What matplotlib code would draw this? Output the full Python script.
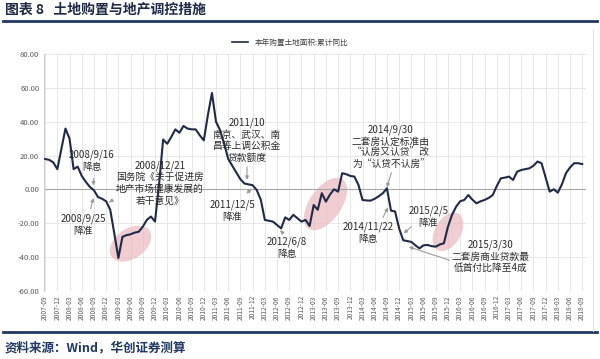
import matplotlib
matplotlib.use("Agg")
import matplotlib.pyplot as plt
import matplotlib.transforms as mtransforms
from matplotlib.patches import Ellipse
from matplotlib.lines import Line2D
import pandas as pd

plt.rcParams['font.family'] = ['Noto Sans CJK SC', 'DejaVu Sans']

# monthly series, 2007-09 .. 2018-09
months = pd.period_range('2007-09', '2018-09', freq='M')
land_yoy = [
    18, 17.5, 16, 12, 24, 36, 30, 12, 13.5, 8,
    4.5, 1.5, -0.5, -4.5, -5.5, -7, -12, -26, -40.5, -28,
    -27, -26.5, -25.5, -25, -22, -18, -16, -19, 3, 29.5,
    27, 31, 35.5, 33.5, 37.5, 36, 35.5, 35.5, 32, 29,
    44, 57, 40, 35, 27, 18, 14, 10, 6, 3.5,
    3, 2.5, -0.3, -6, -18, -18.5, -19, -21, -23, -16.5,
    -18, -15, -17, -19, -18, -21.6, -9.2, -12, -2.2, -7.2,
    -3, 0.1, -1.3, 9.6, 9, 8, 7.6, 2.7, -6.2, -6.5,
    -6.6, -5.5, -4, -2.2, 0.7, -12.5, -13, -23, -30, -30.5,
    -31, -33, -34.8, -33, -32.8, -33.5, -33.8, -32.5, -31.8, -22,
    -15, -10.2, -7, -6.2, -3.3, -6, -8.2, -7, -6.2, -5,
    -3.3, 2, 6.6, 7, 7.6, 5.6, 10.5, 11.5, 12, 12.5,
    14, 16.5, 15.5, 7, -1.3, 0.1, -1.9, 3, 9.6, 13,
    15.5, 15.5, 15,
]
series_name = '本年购置土地面积:累计同比'
y_ticks = [80, 60, 40, 20, 0, -20, -40, -60]

# (text, text position, arrow tip, arrow tail) in month index / value
notes = [
    ('2008/9/16\n降息', (11.5, 17), (11.9, 0.7), (11.9, 8)),
    ('2008/9/25\n降准', (9.3, -21), (12.0, -3.5), (11.0, -13)),
    ('2008/12/21\n国务院《关于促进房\n地产市场健康发展的\n若干意见》', (28.2, 4), (15.2, -8.6), (16.4, -6.6)),
    ('2011/10\n南京、武汉、南\n昌等上调公积金\n贷款额度', (49.6, 29), (49.6, 4), (49.6, 15)),
    ('2011/12/5\n降准', (46, -12.7), (51.2, 1.3), (49.1, -3.3)),
    ('2012/6/8\n降息', (59.5, -34.5), (57.3, -23), (58.5, -26)),
    ('2014/9/30\n二套房认定标准由\n“认房又认贷”改\n为“认贷不认房”', (85, 25), (83.8, -0.3), (85.3, 11.5)),
    ('2014/11/22\n降息', (79.4, -25.5), (84.6, -9.2), (82.7, -18)),
    ('2015/2/5\n降准', (94.2, -16), (87.6, -27), (90.5, -21)),
    ('2015/3/30\n二套房商业贷款最\n低首付比降至4成', (109.5, -39.5), (88.7, -33.4), (100, -42.3)),
]

# pink highlight ellipses: centre (month, value), size in inches, angle
circles = [
    ((21.0, -32), 0.46, 0.30, 35),
    ((68.9, -8.6), 0.60, 0.32, 55),
    ((99.0, -25), 0.42, 0.26, 60),
]


def main():
    fig = plt.figure(figsize=(6, 3.59), dpi=100)
    ax = fig.add_axes([0.0725, 0.1894, 0.904, 0.660])

    x = list(range(len(months)))
    ax.plot(x, land_yoy, color='#1f2a48', lw=1.5, label=series_name, zorder=3)

    ax.set_xlim(-0.4, 132.9)
    ax.set_ylim(-60, 80)
    ax.set_yticks(y_ticks)
    ax.set_yticklabels(['%.2f' % v for v in y_ticks], fontsize=5.5, color='#595959')
    tick_pos = x[::3]
    ax.set_xticks(tick_pos)
    ax.set_xticklabels([months[i].strftime('%Y-%m') for i in tick_pos],
                       rotation=90, fontsize=4.8, color='#595959')
    ax.tick_params(length=0, pad=3)

    ax.grid(True, color='#e3e3e3', lw=0.6)
    ax.set_axisbelow(True)
    for s in ['top', 'right', 'bottom']:
        ax.spines[s].set_visible(False)
    ax.spines['left'].set_color('#d0d0d0')
    ax.axhline(0, color='#a6a6a6', lw=0.8, zorder=2)

    for (cx, cy), w, h, ang in circles:
        tr = fig.dpi_scale_trans + mtransforms.ScaledTranslation(cx, cy, ax.transData)
        ax.add_patch(Ellipse((0, 0), w, h, angle=ang, transform=tr,
                             facecolor='#e9b9bd', edgecolor='none', alpha=0.7, zorder=1))

    for text, pos, tip, tail in notes:
        ax.text(pos[0], pos[1], text, ha='center', va='center', fontsize=7,
                color='#2b2b2b', linespacing=1.2, zorder=4)
        ax.annotate('', xy=tip, xytext=tail,
                    arrowprops=dict(arrowstyle='-|>', color='#9a9a9a', lw=0.8,
                                    mutation_scale=5), zorder=4)

    handle = Line2D([], [], color='#1f2a48', lw=1.2)
    fig.legend([handle], [series_name], loc='center', bbox_to_anchor=(0.483, 0.880),
               frameon=False, fontsize=5.5, handlelength=2.2, labelcolor='#404040')

    # page furniture
    fig.text(0.008, 0.972, '图表 8   土地购置与地产调控措施', fontsize=10, weight='bold',
             color='#1f2a48', va='center')
    fig.add_artist(Line2D([0.005, 0.995], [0.942, 0.942], color='#1f3864', lw=2))
    fig.add_artist(Line2D([0.005, 0.995], [0.075, 0.075], color='#1f3864', lw=2))
    fig.add_artist(Line2D([0.988, 0.988], [0.078, 0.92], color='#e0e0e0', lw=0.8))
    fig.text(0.008, 0.032, '资料来源：Wind，华创证券测算', fontsize=9, style='italic',
             weight='bold', color='#1f3864', va='center')

    fig.savefig('out.png', dpi=100)
    plt.close()


if __name__ == "__main__":
    main()
